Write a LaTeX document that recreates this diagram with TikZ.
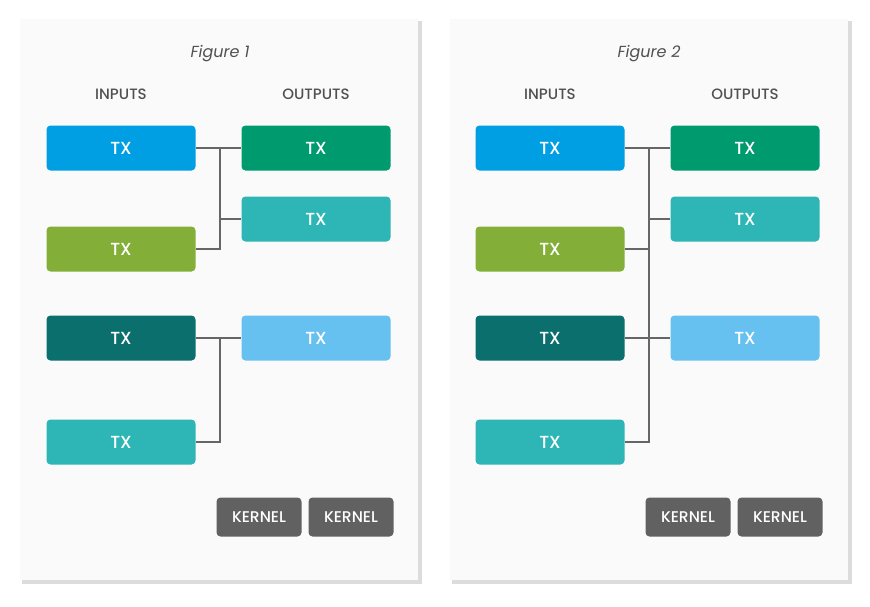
\documentclass[tikz,border=0pt]{standalone}
\usepackage{fontspec}
\setmainfont{Poppins}[UprightFont=* Medium, ItalicFont=* Italic]
\usepackage{tikz}

\definecolor{txblue}{HTML}{009FE3}
\definecolor{txgreen}{HTML}{009A6F}
\definecolor{txlime}{HTML}{83AE37}
\definecolor{txdark}{HTML}{0B6F6D}
\definecolor{txteal}{HTML}{2DB6B5}
\definecolor{txsky}{HTML}{67C1F0}
\definecolor{kgray}{HTML}{616161}
\definecolor{wire}{HTML}{666666}
\definecolor{paper}{HTML}{FAFAFA}
\definecolor{panelshadow}{HTML}{DCDCDC}
\definecolor{label}{HTML}{505050}

\tikzset{
  tx/.style={rounded corners=4pt, minimum width=149pt, minimum height=45pt,
    text=white, font=\fontsize{17.5}{17.5}\selectfont, inner sep=0pt},
  kernel/.style={rounded corners=4pt, fill=kgray, minimum width=85pt,
    minimum height=39pt, text=white, font=\fontsize{15.5}{15.5}\selectfont, inner sep=0pt},
  head/.style={text=label, font=\fontsize{15}{15}\selectfont},
  link/.style={wire, line width=1.6pt},
}

\begin{document}
\begin{tikzpicture}[x=1pt,y=-1pt]
    \useasboundingbox (0,0) rectangle (870,606);
    % Draw panels
    \fill[panelshadow] (22,21) rectangle (422,584);
    \fill[paper] (20,19) rectangle (418,580);
    \fill[panelshadow] (452,21) rectangle (852,584);
    \fill[paper] (450,19) rectangle (848,580);

    % Figure 1
    \node[head, font=\itshape\fontsize{16}{16}\selectfont] (fig1) at (220,54) {Figure 1};
    \node[head] (inA) at (121,94) {INPUTS};
    \node[head] (outA) at (316,94) {OUTPUTS};

    \node[tx, fill=txblue]  (a1) at (121,148) {TX};
    \node[tx, fill=txlime]  (a2) at (121,249) {TX};
    \node[tx, fill=txdark]  (a3) at (121,338) {TX};
    \node[tx, fill=txteal]  (a4) at (121,442) {TX};
    \node[tx, fill=txgreen] (b1) at (316,148) {TX};
    \node[tx, fill=txteal]  (b2) at (316,219) {TX};
    \node[tx, fill=txsky]   (b3) at (316,338) {TX};

    \coordinate (ja) at (220,148);
    \coordinate (jb) at (220,338);
    \draw[link] (a1.east) -- (b1.west);
    \draw[link] (a2.east) -| (ja);
    \draw[link] (b2.west) -| (ja);
    \draw[link] (a3.east) -- (b3.west);
    \draw[link] (a4.east) -| (jb);

    \node[kernel] (ka1) at (259,517) {KERNEL};
    \node[kernel] (ka2) at (351,517) {KERNEL};

    % Figure 2
    \node[head, font=\itshape\fontsize{16}{16}\selectfont] (fig2) at (649,54) {Figure 2};
    \node[head] (inB) at (550,94) {INPUTS};
    \node[head] (outB) at (745,94) {OUTPUTS};

    \node[tx, fill=txblue]  (c1) at (550,148) {TX};
    \node[tx, fill=txlime]  (c2) at (550,249) {TX};
    \node[tx, fill=txdark]  (c3) at (550,338) {TX};
    \node[tx, fill=txteal]  (c4) at (550,442) {TX};
    \node[tx, fill=txgreen] (d1) at (745,148) {TX};
    \node[tx, fill=txteal]  (d2) at (745,219) {TX};
    \node[tx, fill=txsky]   (d3) at (745,338) {TX};

    \coordinate (jc) at (649,148);
    \draw[link] (c1.east) -- (d1.west);
    \draw[link] (c2.east) -| (jc);
    \draw[link] (d2.west) -| (jc);
    \draw[link] (c3.east) -- (d3.west);
    \draw[link] (c4.east) -| (jc);

    \node[kernel] (kb1) at (688,517) {KERNEL};
    \node[kernel] (kb2) at (780,517) {KERNEL};
\end{tikzpicture}
\end{document}
